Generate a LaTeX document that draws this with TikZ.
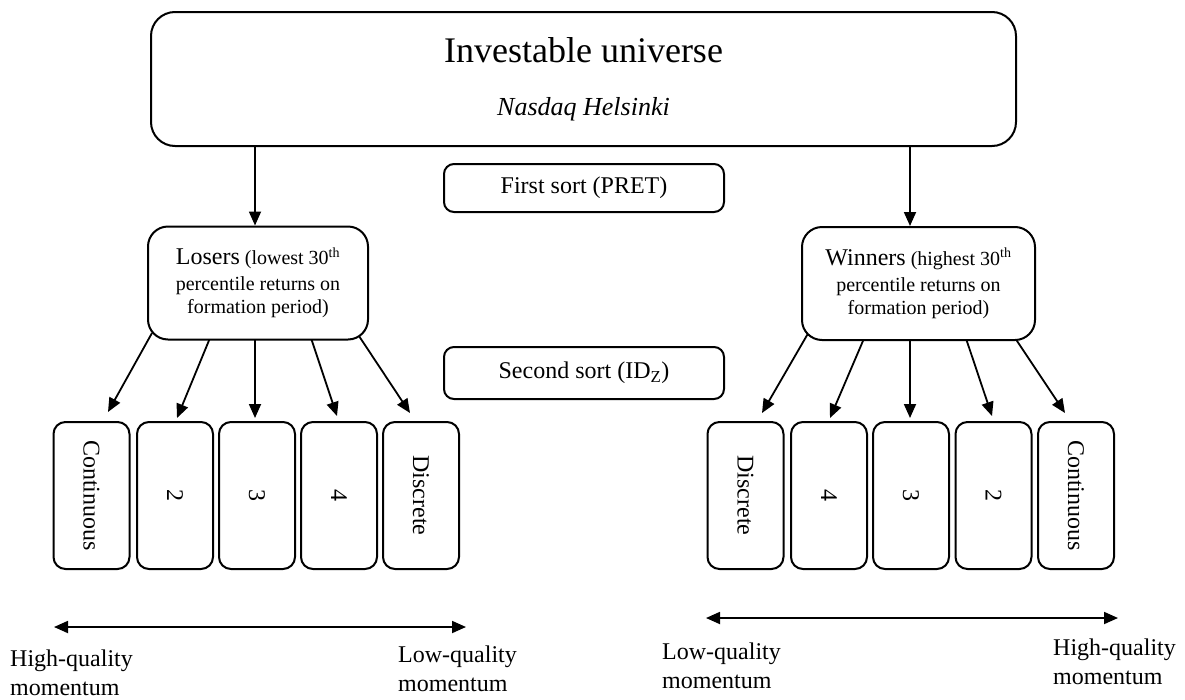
\documentclass[tikz,border=0pt]{standalone}
\usepackage{fontspec}
\setmainfont{Liberation Serif}
\usepackage{graphicx}
\usetikzlibrary{arrows.meta,calc,backgrounds}
\begin{document}
\begin{tikzpicture}[x=1pt,y=-1pt,
  box/.style={draw, line width=2pt, fill=white, inner sep=0pt, align=center},
  arr/.style={line width=1.8pt, -{Triangle[length=14pt,width=12pt]}},
  darr/.style={line width=1.8pt, {Triangle[length=14pt,width=12pt]}-{Triangle[length=14pt,width=12pt]}},
  tall/.style={box, rounded corners=12pt, minimum width=76pt, minimum height=147pt, font=\fontsize{24}{28}\selectfont},
  sortbox/.style={box, rounded corners=10pt, minimum width=280pt, font=\fontsize{24}{28}\selectfont},
  groupbox/.style={box, rounded corners=20pt, minimum height=113pt, font=\fontsize{20}{23}\selectfont},
  lab/.style={align=left, anchor=north west, inner sep=0pt, font=\fontsize{24}{29}\selectfont}]
\useasboundingbox (0,0) rectangle (1185,699);

% top box
\node[box, rounded corners=24pt, minimum width=865pt, minimum height=134pt, font=\fontsize{26}{53}\selectfont] (T) at (583.5,79)
  {{\fontsize{36}{53}\selectfont Investable universe}\\ \textit{Nasdaq Helsinki}};

% sort labels
\node[sortbox, minimum height=48pt] (S1) at (584,188) {First sort (PRET)};
\node[sortbox, minimum height=52pt] (S2) at (584,373) {Second sort (ID\textsubscript{Z})};

% group boxes
\node[groupbox, minimum width=220pt] (L) at (258,283)
  {{\fontsize{24}{23}\selectfont Losers} (lowest 30\textsuperscript{th}\\[3pt]percentile returns on\\formation period)};
\node[groupbox, minimum width=233pt] (W) at (918.5,283.5)
  {{\fontsize{24}{23}\selectfont Winners} (highest 30\textsuperscript{th}\\[3pt]percentile returns on\\formation period)};

% portfolio boxes, losers
\node[tall] (c1) at (91.5,495.5) {\rotatebox{-90}{Continuous}};
\node[tall] (c2) at (175,495.5) {\rotatebox{-90}{2}};
\node[tall] (c3) at (257,495.5) {\rotatebox{-90}{3}};
\node[tall] (c4) at (339,495.5) {\rotatebox{-90}{4}};
\node[tall] (c5) at (421,495.5) {\rotatebox{-90}{Discrete}};

% portfolio boxes, winners
\node[tall] (d1) at (745.5,495.5) {\rotatebox{-90}{Discrete}};
\node[tall] (d2) at (829,495.5) {\rotatebox{-90}{4}};
\node[tall] (d3) at (911,495.5) {\rotatebox{-90}{3}};
\node[tall] (d4) at (993.5,495.5) {\rotatebox{-90}{2}};
\node[tall] (d5) at (1076,495.5) {\rotatebox{-90}{Continuous}};

\begin{scope}[on background layer]
  \draw[arr] ([xshift=-3pt]L.north |- T.south) -- ([xshift=-3pt]L.north);
  \draw[arr] ([xshift=-8.5pt]W.north |- T.south) -- ([xshift=-8.5pt]W.north);

  \draw[arr] ($(L.center)+(-106,50)$) -- ($(c1.north)+(16.5,-9)$);
  \draw[arr] ($(L.center)+(-48,55)$) -- ($(c2.north)+(2,-3)$);
  \draw[arr] ($(L.center)+(-3,55)$) -- ($(c3.north)+(-2,-3)$);
  \draw[arr] ($(L.center)+(53,55)$) -- ($(c4.north)+(-2,-5)$);
  \draw[arr] ($(L.center)+(101,53)$) -- ($(c5.north)+(-11,-8)$);

  \draw[arr] ($(W.center)+(-110.5,50)$) -- ($(d1.north)+(16.5,-8)$);
  \draw[arr] ($(W.center)+(-54.5,55)$) -- ($(d2.north)+(1,-3)$);
  \draw[arr] ($(W.center)+(-8.5,55)$) -- ($(d3.north)+(-1,-3)$);
  \draw[arr] ($(W.center)+(47.5,55)$) -- ($(d4.north)+(-1.5,-5)$);
  \draw[arr] ($(W.center)+(95.5,53)$) -- ($(d5.north)+(-11,-8)$);
\end{scope}

% quality scales
\coordinate (la) at (54,627);
\coordinate (lb) at (466,627);
\coordinate (ra) at (706,618);
\coordinate (rb) at (1118,618);
\draw[darr] (la) -- (lb);
\draw[darr] (ra) -- (rb);

\node[lab] (hql) at (10,650) {High-quality\\momentum};
\node[lab] (lql) at (398,646) {Low-quality\\momentum};
\node[lab] (lqr) at (662,643) {Low-quality\\momentum};
\node[lab] (hqr) at (1053,639) {High-quality\\momentum};
\end{tikzpicture}
\end{document}
